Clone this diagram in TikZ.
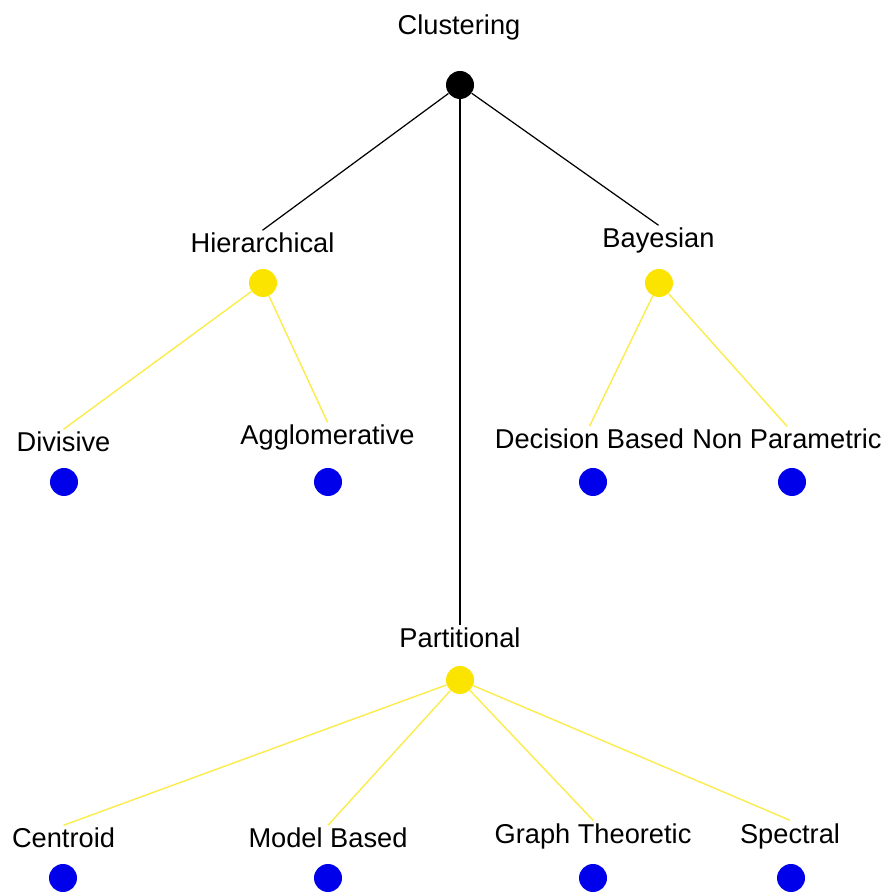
\documentclass[tikz,border=0pt]{standalone}
\usepackage{fontspec}
\setmainfont{Liberation Sans}
\usepackage{tikz}

\definecolor{midyellow}{RGB}{250,228,0}
\definecolor{leafblue}{RGB}{0,0,235}

\begin{document}
\begin{tikzpicture}[every node/.append style = {font=\fontsize{15.5}{18}\selectfont},
		txt/.style = {anchor=base, inner sep=1.5pt},
		ball/.style = {circle, inner sep=0pt, minimum size=0.56cm},
		rootball/.style = {ball, fill=black},
		midball/.style = {ball, fill=midyellow},
		leafball/.style = {ball, fill=leafblue}]
			\useasboundingbox (0,0) rectangle (17.76,17.9);
			
			% root
			\node[rootball] (clust) at (9.20,16.20) {};
			\node[txt] (lclust) at (9.18,17.20) {Clustering};
			
			% second level
			\node[midball] (hier) at (5.26,12.24) {};
			\node[txt] (lhier) at (5.25,12.84) {Hierarchical};
			\node[midball] (bayes) at (13.18,12.24) {};
			\node[txt] (lbayes) at (13.17,12.94) {Bayesian};
			\node[midball] (part) at (9.20,4.30) {};
			\node[txt] (lpart) at (9.20,4.94) {Partitional};
			
			% leaves
			\node[leafball] (divis) at (1.28,8.26) {};
			\node[txt] (ldivis) at (1.27,8.86) {Divisive};
			\node[leafball] (agglo) at (6.56,8.26) {};
			\node[txt] (lagglo) at (6.55,9.00) {Agglomerative};
			\node[leafball] (decis) at (11.86,8.26) {};
			\node[txt] (ldecis) at (11.79,8.92) {Decision Based};
			\node[leafball] (nonpar) at (15.84,8.26) {};
			\node[txt] (lnonpar) at (15.74,8.92) {Non Parametric};
			\node[leafball] (centr) at (1.26,0.34) {};
			\node[txt] (lcentr) at (1.27,0.94) {Centroid};
			\node[leafball] (model) at (6.56,0.34) {};
			\node[txt] (lmodel) at (6.56,0.94) {Model Based};
			\node[leafball] (graph) at (11.86,0.34) {};
			\node[txt] (lgraph) at (11.86,1.04) {Graph Theoretic};
			\node[leafball] (spect) at (15.82,0.34) {};
			\node[txt] (lspect) at (15.80,1.04) {Spectral};
			
			\path[draw=black, line width=0.7pt]
				(clust) edge (lhier.north)
				(clust) edge (lbayes.north)
				(clust) edge (lpart.north);
			\path[draw=midyellow!70, line width=0.8pt]
				(hier) edge (ldivis.north)
				(hier) edge (lagglo.north)
				(bayes) edge (ldecis.north)
				(bayes) edge (lnonpar.north)
				(part) edge (lcentr.north)
				(part) edge (lmodel.north)
				(part) edge (lgraph.north)
				(part) edge (lspect.north);
		\end{tikzpicture}
\end{document}
